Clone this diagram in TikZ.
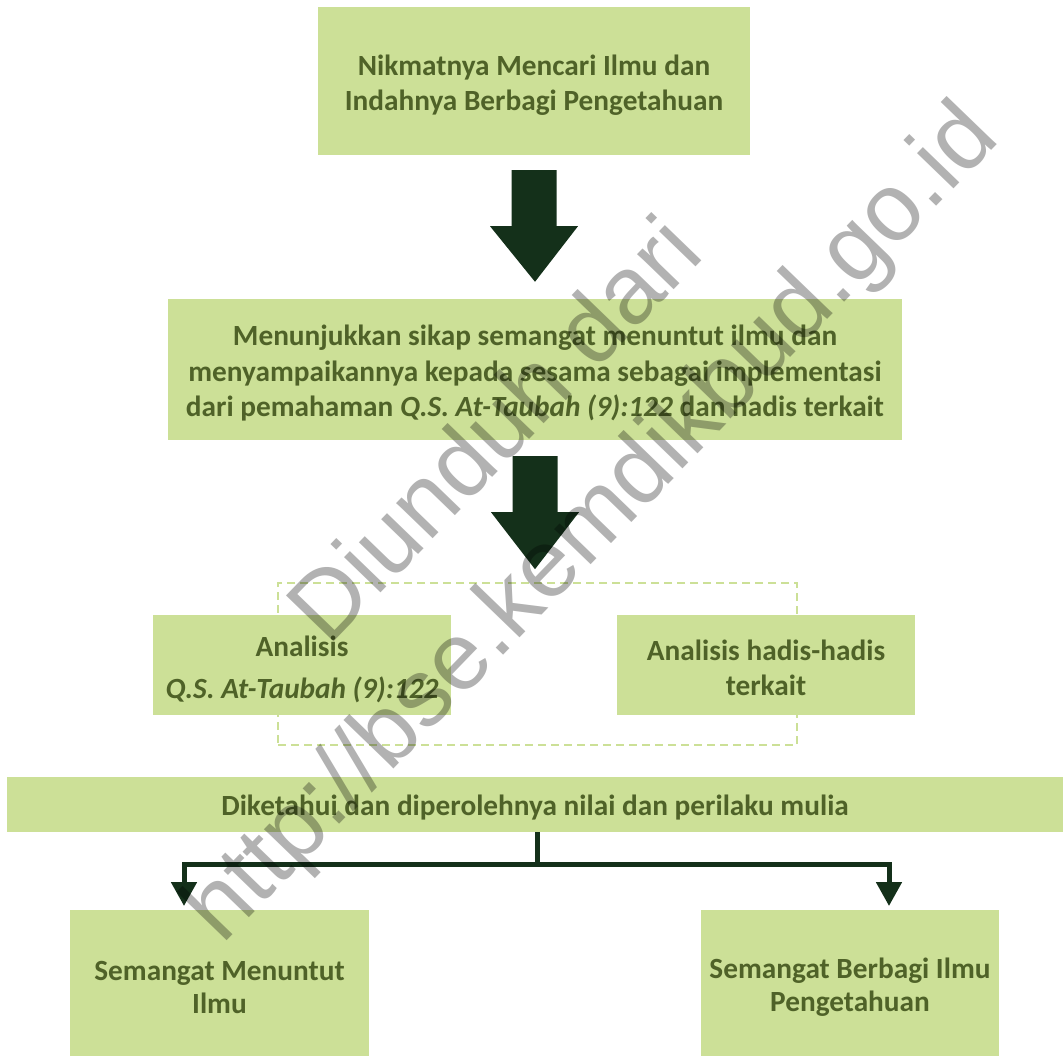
\documentclass[tikz,border=0pt]{standalone}
\usepackage{fontspec}
\setmainfont{Carlito}
\newfontfamily\wmfont{Liberation Sans}
\usetikzlibrary{calc,arrows.meta}
\definecolor{boxfill}{HTML}{CCE097}
\definecolor{boxtext}{HTML}{4F6228}
\definecolor{arrowc}{HTML}{14301A}
\tikzset{
  box/.style={fill=boxfill, draw=none, inner sep=0pt},
  label/.style={inner sep=0pt, align=center, text=boxtext,
    font=\bfseries\fontsize{29.3}{35.5}\selectfont},
  groupbox/.style={draw=boxfill, dash pattern=on 8pt off 5pt, line width=2.5pt, inner sep=0pt},
  conn/.style={draw=arrowc, line width=5pt},
  connarrow/.style={conn, -{Triangle[width=25pt,length=24pt]}},
  bigarrow/.style={fill=arrowc, draw=none},
  watermark/.style={font=\wmfont\fontsize{96}{131}\selectfont, text=black, text opacity=0.3, align=center, rotate=46}
}
\begin{document}
\begin{tikzpicture}[x=1pt,y=-1pt]
\useasboundingbox (0,0) rectangle (1063,1056);
% dashed group
\node[groupbox, minimum width=519pt, minimum height=162pt] (grp) at (537.5,664) {};
% boxes
\node[box, minimum width=432pt, minimum height=148pt] (b1) at (534,81) {};
\node[box, minimum width=734pt, minimum height=141pt] (b2) at (535,369.5) {};
\node[box, minimum width=298pt, minimum height=100pt] (b3l) at (302,665) {};
\node[box, minimum width=298pt, minimum height=100pt] (b3r) at (766,665) {};
\node[box, minimum width=1056pt, minimum height=55pt] (b4) at (535,804.5) {};
\node[box, minimum width=299pt, minimum height=146pt] (b5l) at (219.5,983) {};
\node[box, minimum width=298pt, minimum height=146pt] (b5r) at (850,983) {};
% texts
\node[label] (t1) at ($(b1)+(0,4)$) {Nikmatnya Mencari Ilmu dan\\Indahnya Berbagi Pengetahuan};
\node[label] (t2) at ($(b2)+(0,4)$)
  {Menunjukkan sikap semangat menuntut ilmu dan\\menyampaikannya kepada sesama sebagai implementasi\\dari pemahaman \textit{Q.S. At-Taubah (9):122} dan hadis terkait};
\node[label, font=\bfseries\fontsize{29.3}{42}\selectfont] (t3l) at ($(b3l)+(0,4)$)
  {Analisis\\\textit{Q.S. At-Taubah (9):122}};
\node[label] (t3r) at ($(b3r)+(0,3)$) {Analisis hadis-hadis\\terkait};
\node[label] (t4) at ($(b4)+(0,3)$) {Diketahui dan diperolehnya nilai dan perilaku mulia};
\node[label, font=\bfseries\fontsize{29.3}{33}\selectfont] (t5l) at ($(b5l)+(0,4)$) {Semangat Menuntut\\Ilmu};
\node[label, font=\bfseries\fontsize{29.3}{33}\selectfont] (t5r) at ($(b5r)+(0,4)$) {Semangat Berbagi Ilmu\\Pengetahuan};
% block arrows
\fill[bigarrow] ($(b1.south)+(-22.5,15)$) -- ($(b1.south)+(22.5,15)$) -- ($(b1.south)+(22.5,71)$)
  -- ($(b1.south)+(44,71)$) -- ($(b2.north)+(0,-17)$) -- ($(b1.south)+(-44,71)$)
  -- ($(b1.south)+(-22.5,71)$) -- cycle;
\fill[bigarrow] ($(b2.south)+(-22.5,16)$) -- ($(b2.south)+(22.5,16)$) -- ($(b2.south)+(22.5,72)$)
  -- ($(b2.south)+(44,72)$) -- ($(b2.south)+(0,129)$) -- ($(b2.south)+(-44,72)$)
  -- ($(b2.south)+(-22.5,72)$) -- cycle;
% split connector
\coordinate (j) at ($(b4.south)+(2,32)$);
\coordinate (tl) at (184,906);
\coordinate (tr) at (889,906);
\draw[conn] (b4.south -| j) -- (j);
\draw[connarrow] (j) -| (tl);
\draw[connarrow] (j) -| (tr);
% watermark
\node[watermark] (wm) at (547,480) {Diunduh dari\\http://bse.kemdikbud.go.id};
\end{tikzpicture}
\end{document}
